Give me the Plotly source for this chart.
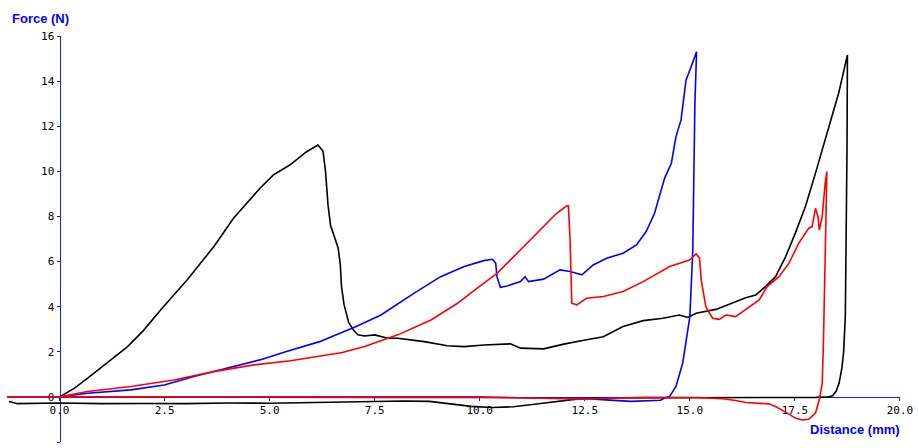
import plotly.graph_objects as go

# Specimen A (black): loading path, then unloading return near zero
black_dist = [0.0, 0.35, 0.67, 1.1, 1.62, 2.0, 2.41, 3.04, 3.67, 4.14, 4.77, 5.09, 5.48, 5.88,
              6.15, 6.27, 6.33, 6.39, 6.45, 6.55, 6.63, 6.68, 6.71, 6.77, 6.88, 7.0, 7.1, 7.26,
              7.5, 7.81, 8.05, 8.68, 9.23, 9.63, 10.1, 10.73, 10.97, 11.52, 12.0, 12.54, 12.94,
              13.41, 13.89, 14.36, 14.75, 14.95, 15.15, 15.62, 15.94, 16.33, 16.57, 16.8, 17.04,
              17.28, 17.51, 17.75, 17.99, 18.15, 18.38, 18.54, 18.66, 18.75,
              18.74, 18.72, 18.7, 18.66, 18.62, 18.55, 18.48, 18.4, 18.3,
              18.0, 17.5, 16.5, 15.5, 14.5, 13.5, 12.8, 12.3, 11.8, 11.3, 10.8, 10.3, 9.8, 9.3,
              8.8, 8.2, 7.6, 7.0, 6.0, 5.0, 4.0, 3.0, 2.0, 1.0, 0.0, -0.6, -1.0, -1.2]
black_force = [0.0, 0.38, 0.83, 1.45, 2.23, 2.95, 3.86, 5.19, 6.66, 7.92, 9.25, 9.84, 10.28, 10.87,
               11.17, 10.9, 10.0, 8.5, 7.6, 7.05, 6.6, 5.9, 4.9, 4.1, 3.3, 2.95, 2.75, 2.7,
               2.75, 2.6, 2.6, 2.45, 2.27, 2.23, 2.3, 2.35, 2.16, 2.13, 2.34, 2.53, 2.67,
               3.12, 3.38, 3.49, 3.63, 3.52, 3.71, 3.88, 4.12, 4.4, 4.52, 4.89, 5.33,
               6.22, 7.26, 8.44, 9.92, 10.95, 12.43, 13.46, 14.42, 15.16,
               11.0, 7.0, 3.6, 2.0, 1.3, 0.6, 0.25, 0.05, 0.0,
               -0.02, -0.02, -0.03, -0.02, -0.03, -0.03, -0.05, -0.1, -0.2, -0.33, -0.44, -0.47,
               -0.42, -0.3, -0.2, -0.18, -0.2, -0.24, -0.27, -0.28, -0.27, -0.3, -0.29, -0.3,
               -0.27, -0.28, -0.3, -0.2]

# Specimen B (blue)
blue_dist = [0.0, 0.67, 1.7, 2.49, 3.2, 3.98, 4.77, 5.4, 6.19, 6.73, 7.02, 7.65, 8.44, 9.07,
             9.63, 10.1, 10.3, 10.38, 10.41, 10.49, 10.65, 10.97, 11.08, 11.16, 11.52, 11.91,
             12.15, 12.43, 12.7, 13.02, 13.41, 13.73, 13.96, 14.16, 14.32, 14.4, 14.56, 14.67,
             14.79, 14.91, 15.03, 15.11, 15.16,
             15.12, 15.1, 15.07, 15.0, 14.83, 14.67, 14.52,
             14.4, 14.3, 13.6, 13.2, 12.9, 12.4, 11.5, 10.0, 8.0, 6.0, 4.0, 2.0, 0.0]
blue_force = [0.0, 0.16, 0.31, 0.53, 0.9, 1.27, 1.64, 2.01, 2.45, 2.87, 3.09, 3.63, 4.6, 5.33,
              5.78, 6.04, 6.1, 5.93, 5.33, 4.86, 4.92, 5.11, 5.33, 5.11, 5.22, 5.63,
              5.56, 5.41, 5.85, 6.15, 6.37, 6.74, 7.33, 8.14, 9.18, 9.7, 10.36, 11.54,
              12.28, 14.05, 14.64, 15.01, 15.3,
              13.0, 11.0, 6.5, 3.56, 1.5, 0.46, 0.02,
              -0.05, -0.15, -0.2, -0.17, -0.12, -0.06, -0.04, -0.03, -0.02, -0.02, -0.01, -0.01, 0.0]

# Specimen C (red)
red_dist = [0.0, 0.67, 1.7, 2.72, 3.67, 4.62, 5.5, 6.2, 6.73, 7.26, 8.05, 8.84, 9.47, 9.94,
            10.41, 10.81, 11.36, 11.83, 12.07, 12.11, 12.15, 12.19, 12.31, 12.54, 12.94, 13.41,
            13.89, 14.52, 14.99, 15.15, 15.23, 15.27, 15.38, 15.54, 15.7, 15.86, 16.09, 16.33,
            16.65, 16.84, 17.12, 17.36, 17.59, 17.83, 17.91, 17.99, 18.05, 18.08, 18.15, 18.22,
            18.26,
            18.24, 18.22, 18.18, 18.15, 18.08, 17.99, 17.83, 17.67, 17.51, 17.32, 17.04, 16.88,
            16.33, 16.09, 15.78, 15.15, 14.0, 13.0, 12.5, 12.0, 11.0, 10.0, 5.0, 0.0, -1.25]
red_force = [0.0, 0.24, 0.46, 0.75, 1.12, 1.42, 1.6, 1.8, 1.97, 2.23, 2.75, 3.41, 4.15, 4.82,
             5.48, 6.22, 7.26, 8.14, 8.47, 8.47, 6.96, 4.15, 4.08, 4.37, 4.45, 4.67,
             5.11, 5.78, 6.07, 6.34, 6.15, 5.19, 4.0, 3.49, 3.44, 3.63, 3.56, 3.86,
             4.3, 4.89, 5.33, 5.93, 6.81, 7.48, 7.55, 8.36, 7.99, 7.4, 7.99, 9.47,
             9.99,
             8.0, 5.5, 2.5, 0.6, -0.13, -0.72, -0.99, -1.02, -0.94, -0.72, -0.43, -0.31,
             -0.25, -0.16, -0.08, -0.03, -0.02, -0.06, -0.1, -0.08, -0.03, 0.0, 0.0, 0.0, 0.0]

x_ticks = [0.0, 2.5, 5.0, 7.5, 10.0, 12.5, 15.0, 17.5, 20.0]
x_tick_text = ["0.0", "2.5", "5.0", "7.5", "10.0", "12.5", "15.0", "17.5", "20.0"]
y_ticks = [-2, 0, 2, 4, 6, 8, 10, 12, 14, 16]
y_tick_text = ["-2", "0", "2", "4", "6", "8", "10", "12", "14", "16"]

X_RANGE = [-1.25, 20.0]
Y_RANGE = [-2.0, 16.0]
AXIS_BLUE = "#1a1aff"

fig = go.Figure()
for xs, ys, col in [(black_dist, black_force, "#000000"),
                    (blue_dist, blue_force, "#0000ff"),
                    (red_dist, red_force, "#ff0000")]:
    fig.add_trace(go.Scatter(x=xs, y=ys, mode="lines",
                             line=dict(color=col, width=1.6),
                             showlegend=False, hoverinfo="skip"))

tick_font = dict(family="DejaVu Sans Mono", size=11, color="#000000")

fig.update_layout(
    width=919, height=448, autosize=False,
    margin=dict(l=7, r=14, t=36, b=6),
    paper_bgcolor="white", plot_bgcolor="white",
    xaxis=dict(range=[X_RANGE[0], X_RANGE[1] + 0.001], anchor="free",
               position=(0 - Y_RANGE[0]) / (Y_RANGE[1] - Y_RANGE[0]),
               showgrid=False, zeroline=False, showline=True, linecolor=AXIS_BLUE,
               linewidth=1, ticks="outside", ticklen=3, tickcolor=AXIS_BLUE,
               tickvals=x_ticks, ticktext=x_tick_text, tickfont=tick_font,
               layer="below traces"),
    yaxis=dict(range=Y_RANGE, anchor="free",
               position=(0 - X_RANGE[0]) / (X_RANGE[1] + 0.001 - X_RANGE[0]),
               showgrid=False, zeroline=False, showline=True, linecolor=AXIS_BLUE,
               linewidth=1, ticks="outside", ticklen=3, tickcolor=AXIS_BLUE,
               tickvals=y_ticks, ticktext=y_tick_text, tickfont=tick_font,
               layer="below traces"),
    annotations=[
        dict(text="<b>Force (N)</b>", xref="paper", yref="paper", x=0.0033, y=1.044,
             xanchor="left", yanchor="middle", showarrow=False,
             font=dict(family="Liberation Sans", size=13, color="#0000ff")),
        dict(text="<b>Distance (mm)</b>", xref="paper", yref="paper", x=1.0022, y=0.03,
             xanchor="right", yanchor="middle", showarrow=False,
             font=dict(family="Liberation Sans", size=13, color="#0000ff")),
    ],
)

fig.write_html("out.html")
